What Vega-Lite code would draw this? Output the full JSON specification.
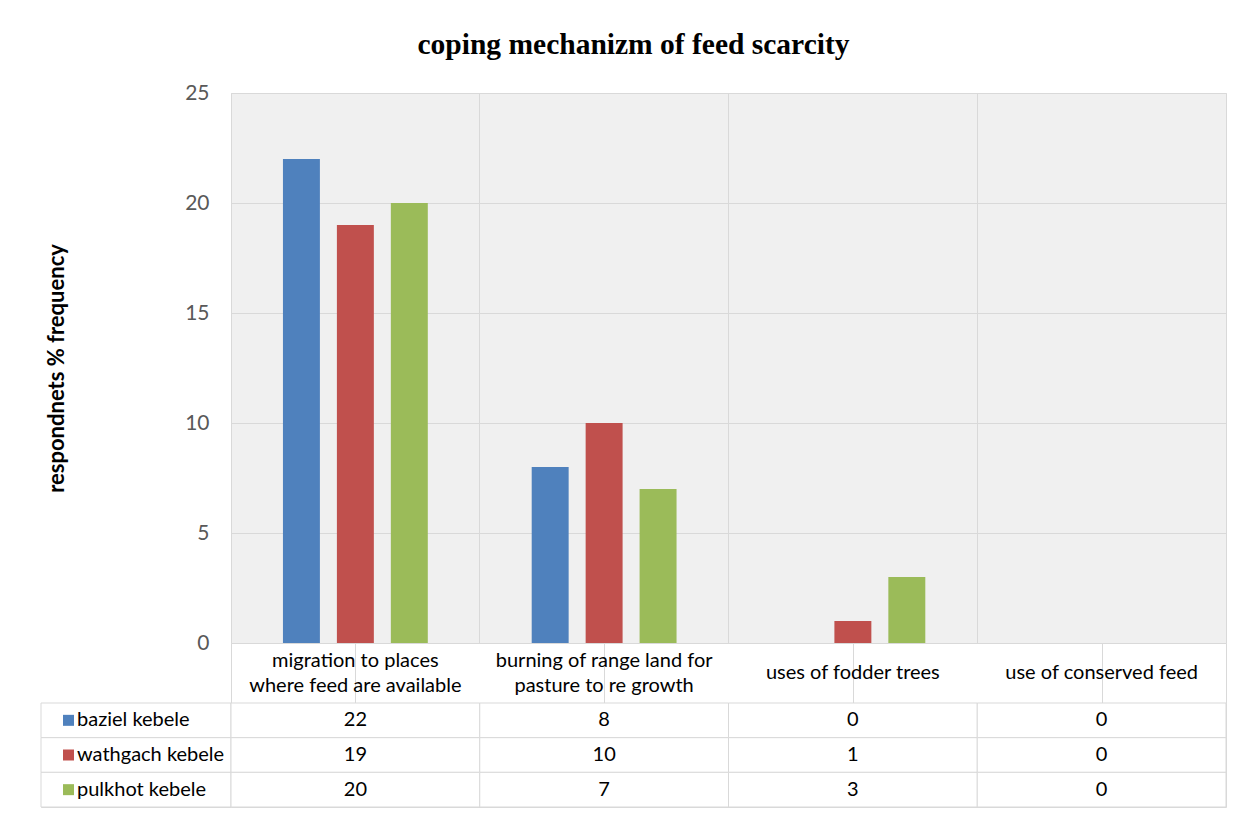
{
  "$schema": "https://vega.github.io/schema/vega-lite/v6.json",
  "background": "white",
  "padding": {"left": 40, "top": 29, "right": 28, "bottom": 7},
  "title": {
    "text": "coping mechanizm of feed scarcity",
    "font": "Liberation Serif",
    "fontSize": 29.5,
    "fontWeight": "bold",
    "color": "#000000",
    "anchor": "middle",
    "offset": 21.5
  },
  "datasets": {
    "responses": [
      {"category": "migration to places\nwhere feed are available", "kebele": "baziel kebele", "value": 22},
      {"category": "migration to places\nwhere feed are available", "kebele": "wathgach kebele", "value": 19},
      {"category": "migration to places\nwhere feed are available", "kebele": "pulkhot kebele", "value": 20},
      {"category": "burning of range land for\npasture to re growth", "kebele": "baziel kebele", "value": 8},
      {"category": "burning of range land for\npasture to re growth", "kebele": "wathgach kebele", "value": 10},
      {"category": "burning of range land for\npasture to re growth", "kebele": "pulkhot kebele", "value": 7},
      {"category": "uses of fodder trees", "kebele": "baziel kebele", "value": 0},
      {"category": "uses of fodder trees", "kebele": "wathgach kebele", "value": 1},
      {"category": "uses of fodder trees", "kebele": "pulkhot kebele", "value": 3},
      {"category": "use of conserved feed", "kebele": "baziel kebele", "value": 0},
      {"category": "use of conserved feed", "kebele": "wathgach kebele", "value": 0},
      {"category": "use of conserved feed", "kebele": "pulkhot kebele", "value": 0}
    ]
  },
  "columns": 2,
  "spacing": 0,
  "bounds": "flush",
  "concat": [
    {
      "width": 190,
      "height": 550,
      "data": {"values": []},
      "view": {"stroke": null},
      "mark": "text",
      "encoding": {}
    },
    {
      "width": 995,
      "height": 550,
      "data": {"name": "responses"},
      "view": {"fill": "#f0f0f0", "stroke": "#d9d9d9"},
      "mark": {"type": "bar"},
      "encoding": {
        "x": {
          "field": "category",
          "type": "nominal",
          "sort": [
            "migration to places\nwhere feed are available",
            "burning of range land for\npasture to re growth",
            "uses of fodder trees",
            "use of conserved feed"
          ],
          "scale": {"paddingInner": 0, "paddingOuter": 0},
          "axis": {
            "title": null,
            "labels": false,
            "ticks": false,
            "domain": false,
            "grid": true,
            "bandPosition": 0,
            "gridColor": "#d9d9d9",
            "gridWidth": 1
          }
        },
        "xOffset": {
          "field": "kebele",
          "type": "nominal",
          "sort": ["baziel kebele", "wathgach kebele", "pulkhot kebele"],
          "scale": {"paddingInner": 0.315, "paddingOuter": 0.963}
        },
        "y": {
          "field": "value",
          "type": "quantitative",
          "scale": {"domain": [0, 25], "nice": false},
          "axis": {
            "values": [0, 5, 10, 15, 20, 25],
            "title": "respondnets % frequency",
            "titleFont": "Lato",
            "titleFontSize": 22,
            "titleFontWeight": "bold",
            "titleColor": "#000000",
            "titlePadding": 116,
            "labelFont": "Lato",
            "labelFontSize": 21,
            "labelColor": "#595959",
            "labelPadding": 22,
            "ticks": false,
            "domain": false,
            "grid": true,
            "gridColor": "#d9d9d9",
            "gridWidth": 1
          }
        },
        "color": {
          "field": "kebele",
          "type": "nominal",
          "sort": ["baziel kebele", "wathgach kebele", "pulkhot kebele"],
          "scale": {"range": ["#4f81bd", "#c0504d", "#9bbb59"]},
          "legend": null
        }
      }
    },
    {
      "width": 190,
      "height": 60,
      "data": {"values": []},
      "view": {"stroke": null},
      "mark": "text",
      "encoding": {}
    },
    {
      "width": 995,
      "height": 60,
      "data": {"name": "responses"},
      "transform": [{"filter": "datum.kebele === 'baziel kebele'"}],
      "view": {"stroke": "#d9d9d9", "fill": "white"},
      "encoding": {
        "x": {
          "field": "category",
          "type": "nominal",
          "sort": [
            "migration to places\nwhere feed are available",
            "burning of range land for\npasture to re growth",
            "uses of fodder trees",
            "use of conserved feed"
          ],
          "scale": {"paddingInner": 0, "paddingOuter": 0},
          "axis": {
            "title": null,
            "labels": false,
            "ticks": false,
            "domain": false,
            "grid": true,
            "bandPosition": 0,
            "gridColor": "#d9d9d9",
            "gridWidth": 1
          }
        },
        "text": {"field": "category", "type": "nominal"}
      },
      "layer": [
        {
          "transform": [{"filter": "indexof(datum.category, '\\n') >= 0"}],
          "mark": {
            "type": "text",
            "font": "Lato",
            "fontSize": 20,
            "lineHeight": 25,
            "lineBreak": "\n",
            "dy": -12.5,
            "color": "#000000"
          }
        },
        {
          "transform": [{"filter": "indexof(datum.category, '\\n') < 0"}],
          "mark": {
            "type": "text",
            "font": "Lato",
            "fontSize": 20,
            "color": "#000000"
          }
        }
      ]
    },
    {
      "width": 190,
      "height": 104,
      "data": {"name": "responses"},
      "transform": [{"filter": "datum.category === 'use of conserved feed'"}],
      "view": {"stroke": "#d9d9d9", "fill": "white"},
      "encoding": {
        "y": {
          "field": "kebele",
          "type": "nominal",
          "sort": ["baziel kebele", "wathgach kebele", "pulkhot kebele"],
          "scale": {"paddingInner": 0, "paddingOuter": 0},
          "axis": null
        }
      },
      "layer": [
        {
          "mark": {"type": "rect", "fill": "white", "stroke": "#d9d9d9", "strokeWidth": 1}
        },
        {
          "mark": {"type": "square", "size": 121, "opacity": 1, "filled": true, "xOffset": -67.5},
          "encoding": {
            "color": {
              "field": "kebele",
              "type": "nominal",
              "sort": ["baziel kebele", "wathgach kebele", "pulkhot kebele"],
              "scale": {"range": ["#4f81bd", "#c0504d", "#9bbb59"]},
              "legend": null
            }
          }
        },
        {
          "mark": {"type": "text", "align": "left", "font": "Lato", "fontSize": 20, "color": "#000000", "xOffset": -59},
          "encoding": {"text": {"field": "kebele", "type": "nominal"}}
        }
      ]
    },
    {
      "width": 995,
      "height": 104,
      "data": {"name": "responses"},
      "view": {"stroke": "#d9d9d9", "fill": "white"},
      "encoding": {
        "x": {
          "field": "category",
          "type": "nominal",
          "sort": [
            "migration to places\nwhere feed are available",
            "burning of range land for\npasture to re growth",
            "uses of fodder trees",
            "use of conserved feed"
          ],
          "scale": {"paddingInner": 0, "paddingOuter": 0},
          "axis": null
        },
        "y": {
          "field": "kebele",
          "type": "nominal",
          "sort": ["baziel kebele", "wathgach kebele", "pulkhot kebele"],
          "scale": {"paddingInner": 0, "paddingOuter": 0},
          "axis": null
        }
      },
      "layer": [
        {
          "mark": {"type": "rect", "fill": "white", "stroke": "#d9d9d9", "strokeWidth": 1}
        },
        {
          "mark": {"type": "text", "font": "Lato", "fontSize": 20, "color": "#000000"},
          "encoding": {"text": {"field": "value", "type": "quantitative"}}
        }
      ]
    }
  ]
}
